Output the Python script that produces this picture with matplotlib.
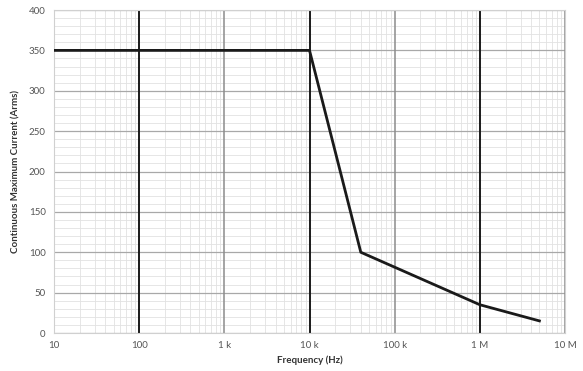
import numpy as np
import matplotlib.pyplot as plt
from matplotlib.ticker import FixedLocator, LogLocator, MultipleLocator, NullFormatter

freq = [10, 10e3, 40e3, 1e6, 5e6]
current = [350, 350, 100, 35, 15]

xticks = [10, 100, 1e3, 1e4, 1e5, 1e6, 1e7]
xlabels = ['10', '100', '1 k', '10 k', '100 k', '1 M', '10 M']
yticks = list(range(0, 401, 50))

plt.rcParams['font.family'] = ['Lato', 'DejaVu Sans']

fig = plt.figure(figsize=(5.83, 3.71), dpi=100)
ax = fig.add_axes([0.0926, 0.1024, 0.8766, 0.8706])

ax.set_xscale('log')
ax.set_xlim(10, 1e7)
ax.set_ylim(0, 400)

ax.xaxis.set_major_locator(FixedLocator(xticks))
ax.set_xticklabels(xlabels)
ax.xaxis.set_minor_locator(LogLocator(base=10, subs=np.arange(2, 10)))
ax.xaxis.set_minor_formatter(NullFormatter())
ax.yaxis.set_major_locator(FixedLocator(yticks))
ax.yaxis.set_minor_locator(MultipleLocator(10))

# light grid
ax.grid(which='minor', color='#e2e2e2', lw=0.6)
ax.grid(which='major', axis='y', color='#a8a8a8', lw=0.9)
# decade lines, alternating dark / grey
for i, xv in enumerate(xticks[1:], start=1):
    col = '#1a1a1a' if i % 2 == 1 else '#8c8c8c'
    ax.axvline(xv, color=col, lw=1.4 if i % 2 == 1 else 1.1, zorder=2)

for s in ax.spines.values():
    s.set_color('#d0d0d0')
    s.set_linewidth(0.8)

ax.tick_params(which='both', length=0, labelsize=7, colors='#555555', pad=6)

ax.plot(freq, current, color='#1a1a1a', lw=2, zorder=3)

ax.set_xlabel('Frequency (Hz)', fontsize=7, fontweight='bold', color='#333333', labelpad=4)
ax.set_ylabel('Continuous Maximum Current (Arms)', fontsize=7, fontweight='bold', color='#333333', labelpad=6)

fig.savefig('out.png', dpi=100)
